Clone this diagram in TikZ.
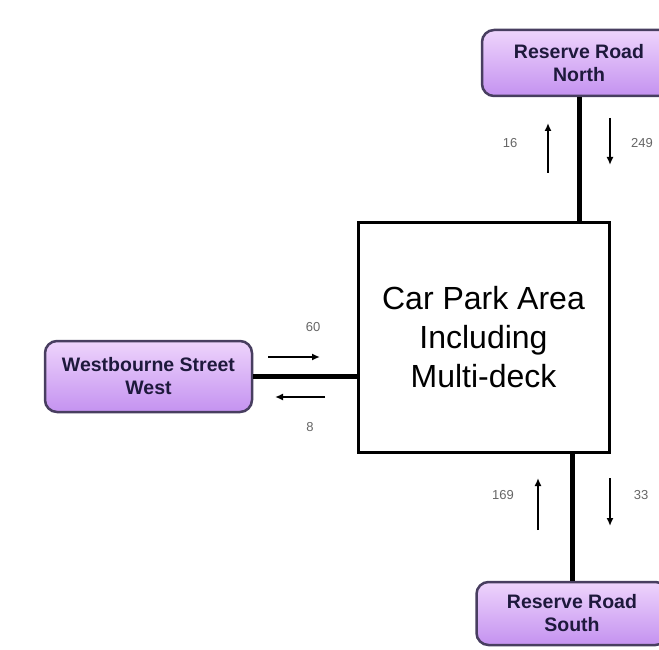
\documentclass[tikz,border=0pt]{standalone}
\usepackage{fontspec}
\setmainfont{Liberation Sans}
\usetikzlibrary{arrows.meta}
\definecolor{roadfillA}{RGB}{238,212,252}
\definecolor{roadfillB}{RGB}{196,146,240}
\definecolor{roadedge}{RGB}{72,62,96}
\definecolor{roadtext}{RGB}{30,25,60}
\begin{document}
\begin{tikzpicture}[x=1pt,y=-1pt,
  road/.style={draw=roadedge, line width=2.5pt, rounded corners=12pt,
    top color=roadfillA, bottom color=roadfillB, align=center, inner sep=0pt,
    font=\fontsize{19.5}{23}\selectfont\bfseries, text=roadtext},
  link/.style={line width=5pt},
  flow/.style={line width=2.8pt, -{Latex[length=8pt,width=7pt]}},
  count/.style={font=\fontsize{13}{15}\selectfont, text=black!60}]
\useasboundingbox (0,0) rectangle (659,650);

% car park in the middle
\node[draw, line width=3pt, minimum width=251pt, minimum height=230pt, align=center,
  font=\fontsize{32}{39}\selectfont] (park) at (483.5,337) {Car Park Area\\Including\\Multi-deck};

% the three roads
\node[road, minimum width=207pt, minimum height=71pt] (west)  at (148.5,376.5) {Westbourne Street\\West};
\node[road, minimum width=194pt, minimum height=66pt] (north) at (579,63)      {Reserve Road\\North};
\node[road, minimum width=191pt, minimum height=63pt] (south) at (572,613.5) {Reserve Road\\South};

\draw[link] (north.south) -- (north.south |- park.north);
\draw[link] (south.north) -- (south.north |- park.south);
\draw[link] (west.east) -- (west.east -| park.west);

% flows in / out with counts
\draw[flow] (268,357) -- (320,357);
\node[count] (westIn) at (313,327) {60};
\draw[flow] (325,397) -- (275,397);
\node[count] (westOut) at (310,427) {8};

\draw[flow] (548,173) -- (548,123);
\node[count] (northOut) at (510,143) {16};
\draw[flow] (610,118) -- (610,165);
\node[count] (northIn) at (642,143) {249};

\draw[flow] (538,530) -- (538,478);
\node[count] (southOut) at (503,495) {169};
\draw[flow] (610,478) -- (610,526);
\node[count] (southIn) at (641,495) {33};
\end{tikzpicture}
\end{document}
